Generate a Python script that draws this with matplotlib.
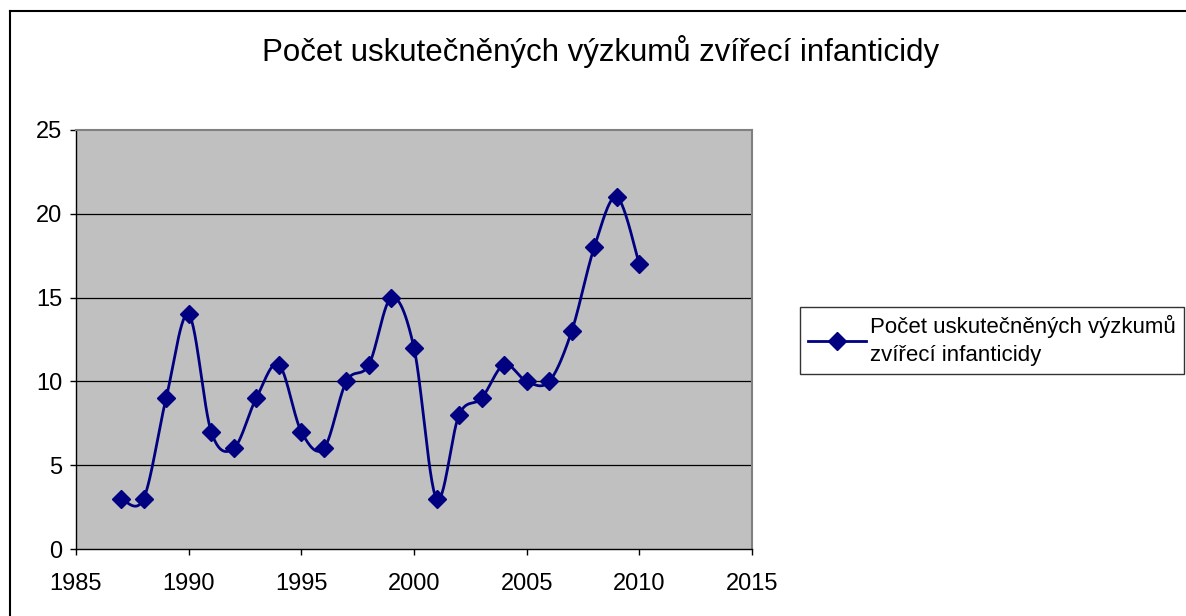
import numpy as np
import matplotlib
matplotlib.use("Agg")
import matplotlib.pyplot as plt
from matplotlib.lines import Line2D

# data
years = [1987, 1988, 1989, 1990, 1991, 1992, 1993, 1994, 1995, 1996, 1997, 1998,
         1999, 2000, 2001, 2002, 2003, 2004, 2005, 2006, 2007, 2008, 2009, 2010]
counts = [3, 3, 9, 14, 7, 6, 9, 11, 7, 6, 10, 11,
          15, 12, 3, 8, 9, 11, 10, 10, 13, 18, 21, 17]
title = "Počet uskutečněných výzkumů zvířecí infanticidy"
legend_label = "Počet uskutečněných výzkumů\nzvířecí infanticidy"
x_ticks = [1985, 1990, 1995, 2000, 2005, 2010, 2015]
y_ticks = [0, 5, 10, 15, 20, 25]

NAVY = "#000080"


def smooth_curve(xs, ys, steps=30):
    # Excel-like smoothed line: Catmull-Rom segments as cubic Beziers
    xs = np.asarray(xs, float)
    ys = np.asarray(ys, float)
    px = np.concatenate([[xs[0]], xs, [xs[-1]]])
    py = np.concatenate([[ys[0]], ys, [ys[-1]]])
    t = np.linspace(0, 1, steps)
    outx, outy = [], []
    for i in range(1, len(px) - 2):
        p0 = np.array([px[i], py[i]])
        p3 = np.array([px[i + 1], py[i + 1]])
        c1 = p0 + (np.array([px[i + 1], py[i + 1]]) - np.array([px[i - 1], py[i - 1]])) / 6
        c2 = p3 - (np.array([px[i + 2], py[i + 2]]) - np.array([px[i], py[i]])) / 6
        b = ((1 - t) ** 3)[:, None] * p0 + (3 * (1 - t) ** 2 * t)[:, None] * c1 \
            + (3 * (1 - t) * t ** 2)[:, None] * c2 + (t ** 3)[:, None] * p3
        outx.extend(b[:, 0])
        outy.extend(b[:, 1])
    return outx, outy


plt.rcParams["font.family"] = ["Liberation Sans", "DejaVu Sans"]

fig = plt.figure(figsize=(11.86, 6.16), dpi=100)
ax = fig.add_axes([76 / 1186, 1 - 549 / 616, (752 - 76) / 1186, (549 - 130) / 616])
ax.set_facecolor("#C0C0C0")

sx, sy = smooth_curve(years, counts)
ax.plot(sx, sy, color=NAVY, lw=2, zorder=3)
ax.plot(years, counts, ls="none", marker="D", ms=9.5, color=NAVY, zorder=4)

ax.set_xlim(1985, 2015)
ax.set_ylim(0, 25)
ax.set_xticks(x_ticks)
ax.set_yticks(y_ticks)
ax.tick_params(labelsize=17, length=4, width=1, direction="out", color="black")
ax.tick_params(axis="x", pad=13)
ax.tick_params(axis="y", pad=6)
for v in y_ticks[1:-1]:
    ax.axhline(v, color="black", lw=0.9, zorder=1)

for side in ["top", "right"]:
    ax.spines[side].set_color("#808080")
    ax.spines[side].set_linewidth(1.5)
for side in ["left", "bottom"]:
    ax.spines[side].set_color("black")
    ax.spines[side].set_linewidth(1)

fig.text(601 / 1186, 1 - 51 / 616, title, ha="center", va="center", fontsize=22.5)

handle = Line2D([], [], color=NAVY, lw=2, marker="D", ms=9.5)
leg = fig.legend([handle], [legend_label], loc="upper left",
                 bbox_to_anchor=(800 / 1186, 1 - 307 / 616), fontsize=16,
                 frameon=True, fancybox=False, handlelength=2.6, handletextpad=0.2,
                 borderpad=0.35, borderaxespad=0)
leg.get_texts()[0].set_linespacing(1.45)
leg.get_frame().set_edgecolor("black")
leg.get_frame().set_linewidth(1)

# outer chart border (only top and left are visible in the picture)
fig.add_artist(Line2D([10 / 1186, 10 / 1186], [0, 1 - 11 / 616], color="black", lw=1.5,
                      transform=fig.transFigure))
fig.add_artist(Line2D([10 / 1186, 1], [1 - 11 / 616, 1 - 11 / 616], color="black", lw=1.5,
                      transform=fig.transFigure))

fig.savefig("out.png", dpi=100)
